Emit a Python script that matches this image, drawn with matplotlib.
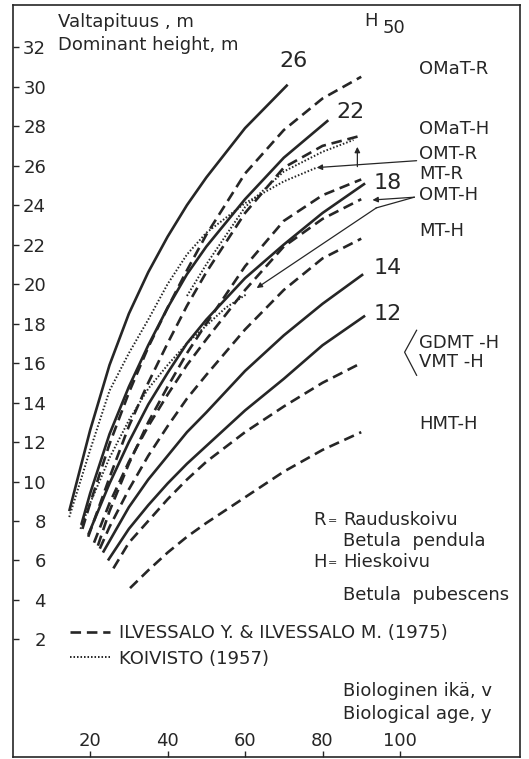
import matplotlib.pyplot as plt

plt.rcParams['font.family'] = ['DejaVu Sans']

ink = '#262626'

# valtapituuskäyrät, ikä (v) ja pituus (m)
s26_age = [14.6, 20, 25, 30, 35, 40, 45, 50, 60, 71]
s26_h = [8.5, 12.6, 15.9, 18.5, 20.6, 22.4, 24.0, 25.4, 27.9, 30.1]
s22_age = [17.7, 20, 25, 30, 35, 40, 45, 50, 60, 70, 81.5]
s22_h = [7.8, 9.4, 12.4, 14.8, 16.9, 18.8, 20.5, 21.9, 24.3, 26.4, 28.3]
s18_age = [19.5, 25, 30, 35, 40, 45, 50, 60, 70, 80, 91]
s18_h = [7.3, 9.9, 12.0, 13.9, 15.5, 17.0, 18.2, 20.3, 22.0, 23.6, 25.1]
s14_age = [23.3, 30, 35, 40, 45, 50, 60, 70, 80, 90.5]
s14_h = [6.4, 8.7, 10.1, 11.3, 12.5, 13.5, 15.6, 17.4, 19.0, 20.5]
s12_age = [24.6, 30, 35, 40, 45, 50, 60, 70, 80, 91]
s12_h = [6.0, 7.6, 8.8, 9.9, 10.9, 11.8, 13.6, 15.2, 16.9, 18.4]

# Ilvessalo & Ilvessalo (1975)
omat_r_age = [18, 20, 25, 30, 35, 40, 45, 50, 60, 70, 80, 90]
omat_r_h = [7.6, 8.9, 11.9, 14.5, 16.8, 18.8, 20.7, 22.5, 25.6, 27.8, 29.4, 30.5]
omat_h_age = [19.5, 25, 30, 35, 40, 45, 50, 60, 70, 80, 89.6]
omat_h_h = [7.2, 10.2, 12.8, 15.0, 17.0, 18.9, 20.6, 23.6, 25.9, 27.0, 27.5]
mt_r_age = [22, 25, 30, 35, 40, 45, 50, 60, 70, 80, 90]
mt_r_h = [6.75, 8.5, 10.9, 13.0, 14.8, 16.5, 18.0, 20.9, 23.2, 24.5, 25.3]
omt_h_age = [21, 25, 30, 35, 40, 45, 50, 60, 70, 80, 90]
omt_h_h = [6.9, 8.9, 11.0, 12.8, 14.4, 15.9, 17.2, 19.7, 21.9, 23.3, 24.3]
mt_h_age = [22.5, 25, 30, 35, 40, 45, 50, 60, 70, 80, 90]
mt_h_h = [6.6, 7.7, 9.6, 11.3, 12.8, 14.2, 15.4, 17.7, 19.7, 21.3, 22.3]
vmt_h_age = [26, 30, 35, 40, 45, 50, 60, 70, 80, 90]
vmt_h_h = [5.6, 6.9, 8.0, 9.1, 10.1, 11.0, 12.5, 13.8, 15.0, 16.0]
hmt_h_age = [30.3, 35, 40, 45, 50, 60, 70, 80, 90]
hmt_h_h = [4.6, 5.5, 6.4, 7.2, 7.9, 9.2, 10.5, 11.6, 12.5]

# Koivisto (1957)
k_omt_r_age = [14.6, 20, 25, 30, 35, 40, 45, 50, 60, 70, 78.5]
k_omt_r_h = [8.2, 11.6, 14.6, 16.5, 18.2, 20.0, 21.5, 22.6, 24.1, 25.2, 25.9]
k_omt_h_age = [17.5, 20, 25, 30, 35, 40, 45, 50, 55, 60.5]
k_omt_h_h = [7.6, 8.9, 11.2, 13.1, 14.7, 15.9, 17.0, 17.9, 18.8, 19.5]
k_mt_r_age = [45, 50, 60, 70, 80, 88]
k_mt_r_h = [19.4, 21.0, 23.9, 25.7, 26.7, 27.3]

h50_labels = ['26', '22', '18', '14', '12']
h50_pos = [(72.6, 31.3), (87.3, 28.7), (96.8, 25.1), (96.8, 20.8), (96.8, 18.5)]

site_labels = ['OMaT-R', 'OMaT-H', 'OMT-R', 'MT-R', 'OMT-H', 'MT-H',
               'GDMT -H', 'VMT -H', 'HMT-H']
site_y = [30.9, 27.85, 26.6, 25.6, 24.5, 22.7, 17.0, 16.05, 12.9]

fig = plt.figure(figsize=(5.29, 7.59), dpi=100)
ax = fig.add_axes([0.024, 0.003, 0.959, 0.990])
ax.set_xlim(0, 131)
ax.set_ylim(-3.94, 34.12)

solid = dict(color=ink, lw=1.9, solid_capstyle='butt')
dash = dict(color=ink, lw=1.9, linestyle=(0, (4, 2.2)))
dot = dict(color=ink, lw=1.4, linestyle=(0, (0.8, 1.0)))

for a, h in [(s26_age, s26_h), (s22_age, s22_h), (s18_age, s18_h),
             (s14_age, s14_h), (s12_age, s12_h)]:
    ax.plot(a, h, **solid)

ax.plot(omat_r_age, omat_r_h, label='ILVESSALO Y. & ILVESSALO M. (1975)', **dash)
for a, h in [(omat_h_age, omat_h_h), (mt_r_age, mt_r_h), (omt_h_age, omt_h_h),
             (mt_h_age, mt_h_h), (vmt_h_age, vmt_h_h), (hmt_h_age, hmt_h_h)]:
    ax.plot(a, h, **dash)

ax.plot(k_omt_r_age, k_omt_r_h, label='KOIVISTO (1957)', **dot)
ax.plot(k_omt_h_age, k_omt_h_h, **dot)
ax.plot(k_mt_r_age, k_mt_r_h, **dot)

# H50-luvut käyrien päissä
for t, (x, y) in zip(h50_labels, h50_pos):
    ax.text(x, y, t, fontsize=16, color=ink, ha='center', va='center')
ax.text(92.4, 33.35, 'H', fontsize=13, color=ink, ha='center', va='center')
ax.text(98.4, 32.95, '50', fontsize=13, color=ink, ha='center', va='center')

for t, y in zip(site_labels, site_y):
    ax.text(105, y, t, fontsize=13, color=ink, ha='left', va='center')

# nuolet kasvupaikkojen nimistä käyriin
arr = dict(arrowstyle='-|>', color=ink, lw=0.9, mutation_scale=8, shrinkA=0, shrinkB=0)
ax.annotate('', xy=(78.5, 25.9), xytext=(104.3, 26.25), arrowprops=arr)
ax.annotate('', xy=(89.0, 26.95), xytext=(89.0, 25.95), arrowprops=arr)
ax.annotate('', xy=(92.9, 24.26), xytext=(103.7, 24.4), arrowprops=arr)
ax.plot([103.7, 93.9], [24.4, 23.86], color=ink, lw=0.9)
ax.annotate('', xy=(63.0, 19.8), xytext=(93.9, 23.86), arrowprops=arr)
ax.plot([104.3, 101.2, 104.3], [17.66, 16.55, 15.38], color=ink, lw=0.9)

ax.text(11.7, 33.3, 'Valtapituus , m', fontsize=13, color=ink, va='center')
ax.text(11.7, 32.1, 'Dominant height, m', fontsize=13, color=ink, va='center')

ax.text(77.5, 8.07, 'R', fontsize=13, color=ink, va='center')
ax.text(81.3, 8.0, '=', fontsize=8, color=ink, va='center')
ax.text(85.4, 8.07, 'Rauduskoivu', fontsize=13, color=ink, va='center')
ax.text(85.4, 6.98, 'Betula  pendula', fontsize=13, color=ink, va='center')
ax.text(77.5, 5.94, 'H', fontsize=13, color=ink, va='center')
ax.text(81.3, 5.87, '=', fontsize=8, color=ink, va='center')
ax.text(85.4, 5.94, 'Hieskoivu', fontsize=13, color=ink, va='center')
ax.text(85.4, 4.26, 'Betula  pubescens', fontsize=13, color=ink, va='center')

ax.text(85.4, -0.61, 'Biologinen ikä, v', fontsize=13, color=ink, va='center')
ax.text(85.4, -1.78, 'Biological age, y', fontsize=13, color=ink, va='center')

leg = ax.legend(loc='upper left', bbox_to_anchor=(0.113, 0.176), frameon=False,
                fontsize=13, handlelength=2.2, handletextpad=0.5,
                labelspacing=0.4, borderpad=0, borderaxespad=0)
for t in leg.get_texts():
    t.set_color(ink)

ax.set_yticks(range(2, 33, 2))
ax.set_xticks(range(20, 101, 20))
ax.tick_params(axis='y', direction='in', length=4, width=1.0, pad=-24,
               labelsize=13, colors=ink)
ax.tick_params(axis='x', direction='in', length=4, width=1.0, pad=-18,
               labelsize=13, colors=ink)
for sp in ax.spines.values():
    sp.set_linewidth(1.2)
    sp.set_color(ink)

fig.savefig('out.png', dpi=100, facecolor='white')
